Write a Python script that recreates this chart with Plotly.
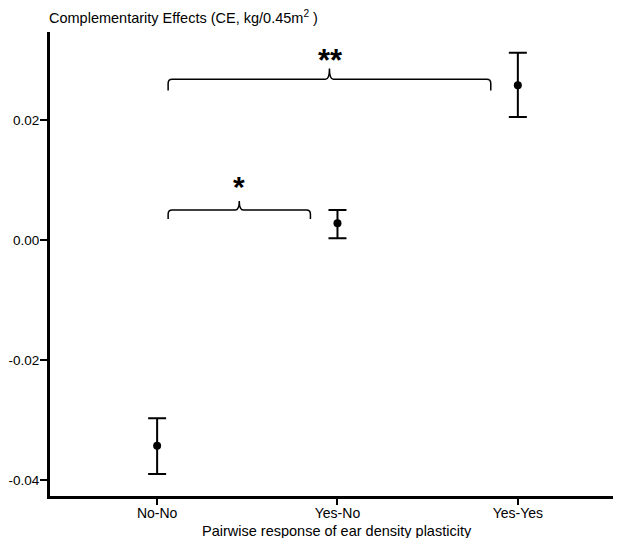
import plotly.graph_objects as go

categories = ["No-No", "Yes-No", "Yes-Yes"]
means = [-0.0343, 0.0028, 0.0258]
upper = [-0.0297, 0.0050, 0.0312]
lower = [-0.0390, 0.0003, 0.0205]
y_ticks = [-0.04, -0.02, 0.00, 0.02]
y_tick_labels = ["-0.04", "-0.02", "0.00", "0.02"]

xs = list(range(len(categories)))
err_plus = [u - m for u, m in zip(upper, means)]
err_minus = [m - l for m, l in zip(means, lower)]

fig = go.Figure()
fig.add_trace(go.Scatter(
    x=xs, y=means, mode="markers",
    marker=dict(color="black", size=8),
    error_y=dict(type="data", symmetric=False, array=err_plus, arrayminus=err_minus,
                 color="black", thickness=2, width=9),
    showlegend=False, hoverinfo="skip",
))


def brace(x0, x1, y, drop, tip, rx=0.022, ry=0.0007):
    xm = (x0 + x1) / 2
    return (f"M {x0},{y - drop} L {x0},{y - ry} Q {x0},{y} {x0 + rx},{y} "
            f"L {xm - rx},{y} Q {xm},{y} {xm},{y + tip} "
            f"Q {xm},{y} {xm + rx},{y} L {x1 - rx},{y} "
            f"Q {x1},{y} {x1},{y - ry} L {x1},{y - drop}")


shapes = [
    dict(type="path", xref="x", yref="y",
         path=brace(0.061, 1.85, 0.0268, 0.0019, 0.0018),
         line=dict(color="black", width=1.5)),
    dict(type="path", xref="x", yref="y",
         path=brace(0.061, 0.85, 0.0050, 0.0015, 0.0015),
         line=dict(color="black", width=1.5)),
]

annotations = [
    dict(x=0.961, y=0.0300, xref="x", yref="y", text="<b>**</b>", showarrow=False,
         font=dict(size=31, color="black", family="Liberation Sans"), yanchor="middle"),
    dict(x=0.456, y=0.0090, xref="x", yref="y", text="<b>*</b>", showarrow=False,
         font=dict(size=30, color="black", family="Liberation Sans"), yanchor="middle"),
    dict(x=1, y=0, xref="x", yref="paper", yanchor="top", yshift=-26, borderpad=0,
         text="Pairwise response of ear density plasticity", showarrow=False,
         font=dict(size=14.5, color="black")),
]

fig.update_layout(
    width=613, height=530,
    margin=dict(l=42, r=0, t=24, b=42),
    plot_bgcolor="white", paper_bgcolor="white",
    font=dict(family="Liberation Sans", size=14, color="black"),
    title=dict(text="Complementarity Effects (CE, kg/0.45m<sup>2</sup> )",
               x=41 / 613, xanchor="left", y=1 - 10 / 530, yanchor="middle",
               font=dict(size=14.5, color="black")),
    shapes=shapes, annotations=annotations,
    xaxis=dict(range=[-0.594, 2.572], tickvals=xs, ticktext=categories,
               showline=True, linecolor="black", linewidth=3,
               ticks="outside", ticklen=6, tickwidth=2, tickcolor="black",
               ticklabelstandoff=-4,
               showgrid=False, zeroline=False, automargin=False),
    yaxis=dict(range=[-0.04267, 0.03467], tickvals=y_ticks, ticktext=y_tick_labels,
               showline=True, linecolor="black", linewidth=3,
               ticks="outside", ticklen=7, tickwidth=2, tickcolor="black",
               ticklabelstandoff=-2, tickfont=dict(size=13.5),
               showgrid=False, zeroline=False, automargin=False),
)

fig.write_html("out.html")
